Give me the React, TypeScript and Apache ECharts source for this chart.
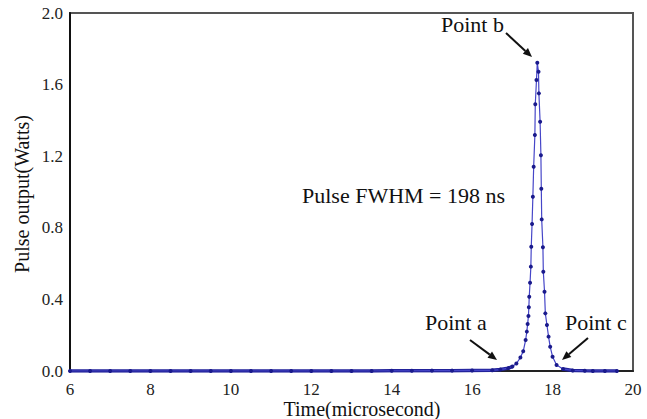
import React, { useEffect, useRef } from "react";
import * as echarts from "echarts";

// Time (microsecond)
const times = [
  6.0, 6.5, 7.0, 7.5, 8.0, 8.5, 9.0, 9.5, 10.0, 10.5, 11.0, 11.5, 12.0, 12.5,
  13.0, 13.5, 14.0, 14.5, 15.0, 15.5, 16.0, 16.5, 16.7, 16.9, 17.0, 17.1, 17.2,
  17.27, 17.33, 17.36, 17.38, 17.4, 17.41, 17.42, 17.44, 17.46, 17.47, 17.49,
  17.51, 17.53, 17.56, 17.57, 17.6, 17.62, 17.65, 17.66, 17.69, 17.71, 17.72,
  17.73, 17.76, 17.77, 17.8, 17.82, 17.86, 17.9, 17.94, 18.0, 18.1, 18.26, 18.5,
  18.8, 19.0, 19.3, 19.6,
];
// Pulse output (Watts)
const power = [
  0, 0, 0, 0, 0, 0, 0, 0, 0, 0, 0, 0, 0, 0,
  0, 0, 0.001, 0.001, 0.002, 0.002, 0.003, 0.004, 0.008, 0.016, 0.025, 0.042, 0.075,
  0.11, 0.173, 0.22, 0.263, 0.307, 0.356, 0.415, 0.493, 0.583, 0.694, 0.821,
  0.974, 1.141, 1.318, 1.49, 1.626, 1.722, 1.672, 1.551, 1.393, 1.205, 1.018,
  0.847, 0.691, 0.555, 0.443, 0.322, 0.257, 0.192, 0.136, 0.08, 0.034, 0.011, 0.003,
  0.001, 0, 0, 0,
];

const xTicks = [6, 8, 10, 12, 14, 16, 18, 20];
const yTicks = [0, 0.4, 0.8, 1.2, 1.6, 2.0];

const SERIF = "'Liberation Serif', 'DejaVu Serif', 'Times New Roman', serif";

function arrow(x1: number, y1: number, x2: number, y2: number) {
  const dx = x2 - x1;
  const dy = y2 - y1;
  const len = Math.sqrt(dx * dx + dy * dy);
  const ux = dx / len;
  const uy = dy / len;
  const hl = 9;
  const hw = 3.8;
  const bx = x2 - ux * hl;
  const by = y2 - uy * hl;
  const px = -uy * hw;
  const py = ux * hw;
  return [
    {
      type: "line",
      shape: { x1, y1, x2: bx, y2: by },
      style: { stroke: "#111", lineWidth: 2 },
      z: 10,
    },
    {
      type: "polygon",
      shape: {
        points: [
          [x2, y2],
          [bx + px, by + py],
          [bx - px, by - py],
        ],
      },
      style: { fill: "#111" },
      z: 10,
    },
  ];
}

function text(t: string, x: number, y: number, size: number, align = "left", rotation = 0) {
  return {
    type: "text",
    x,
    y,
    rotation,
    z: 10,
    style: {
      text: t,
      fill: "#111",
      fontFamily: SERIF,
      fontSize: size,
      align,
      verticalAlign: "middle",
    },
  };
}

export default function App() {
  const ref = useRef<HTMLDivElement>(null);
  useEffect(() => {
    document.body.style.margin = "0";
    if (!ref.current) return;
    const chart = echarts.init(ref.current, undefined, { renderer: "svg" });
    const pts = times.map((t, i) => [t, power[i]]);
    const basePts = times.map((t, i) =>
      t <= 17.0 || t >= 18.26 ? [t, power[i]] : [t, "-"]
    );
    chart.setOption({
      animation: false,
      backgroundColor: "#fff",
      textStyle: { fontFamily: SERIF },
      grid: {
        left: 70,
        right: 14,
        top: 13,
        bottom: 48,
        show: true,
        borderColor: "#555",
        borderWidth: 2,
        containLabel: false,
        outerBoundsMode: "none",
      },
      xAxis: {
        type: "value",
        min: xTicks[0],
        max: xTicks[xTicks.length - 1],
        interval: 2,
        axisLine: { show: true, onZero: false, lineStyle: { color: "#222", width: 2 } },
        axisTick: { show: false },
        splitLine: { show: false },
        axisLabel: {
          color: "#222",
          fontFamily: SERIF,
          fontSize: 17,
          margin: 10,
        },
      },
      yAxis: {
        type: "value",
        min: yTicks[0],
        max: yTicks[yTicks.length - 1],
        interval: 0.4,
        axisLine: { show: true, lineStyle: { color: "#111", width: 2 } },
        axisTick: { show: false },
        splitLine: { show: false },
        axisLabel: {
          color: "#222",
          fontFamily: SERIF,
          fontSize: 17,
          margin: 7,
          formatter: (v: number) => v.toFixed(1),
        },
      },
      series: [
        {
          type: "line",
          data: basePts,
          showSymbol: false,
          symbol: "none",
          connectNulls: false,
          lineStyle: { color: "#22229a", width: 3.5 },
          z: 3,
        },
        {
          type: "line",
          data: pts,
          symbol: "circle",
          symbolSize: 4,
          showAllSymbol: true,
          itemStyle: { color: "#1a1a8c" },
          lineStyle: { color: "#4646c8", width: 1.2 },
          z: 4,
        },
      ],
      graphic: [
        text("Point b", 441, 24, 22),
        ...arrow(506, 33, 532, 57),
        text("Point a", 425, 322, 22),
        ...arrow(470, 340, 497, 360),
        text("Point c", 565, 322, 22),
        ...arrow(588, 338, 562, 360),
        text("Pulse FWHM = 198 ns", 302, 195, 22),
        text("Time(microsecond)", 362, 409, 20, "center"),
        text("Pulse output(Watts)", 22, 194, 20, "center", Math.PI / 2),
      ],
    });
    return () => chart.dispose();
  }, []);
  return <div ref={ref} style={{ width: 647, height: 419 }} />;
}
